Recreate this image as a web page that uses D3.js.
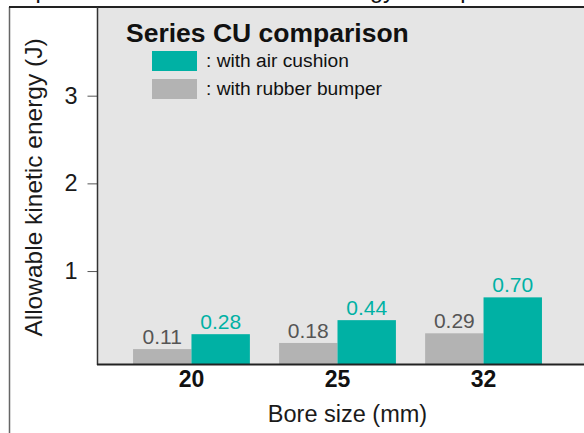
<!DOCTYPE html>
<html>
<head>
<meta charset="utf-8">
<script src="https://cdn.jsdelivr.net/npm/d3@7"></script>
<style>
  html, body { margin: 0; padding: 0; background: #fff; }
  svg { display: block; font-family: "Liberation Sans", Arial, Helvetica, sans-serif; }
</style>
</head>
<body>
<svg id="chart" width="584" height="433"></svg>
<script>
// ---- data ----
const boreSizes = ["20", "25", "32"];
const rubberBumper = [0.11, 0.18, 0.29];
const airCushion = [0.28, 0.44, 0.70];
const yTicks = [1, 2, 3];
const seriesKeys = ["rubber", "air"];
const legendLabels = [": with air cushion", ": with rubber bumper"];
const chartTitle = "Series CU comparison";
const pageTitle = "Comparison of allowable kinetic energy for impact";
const yTitle = "Allowable kinetic energy (J)";
const xTitle = "Bore size (mm)";

const colors = { air: "#00b1a4", rubber: "#b3b3b3" };
const labelColors = { air: "#00b1a4", rubber: "#555555" };

const rows = boreSizes.map((b, i) => ({ bore: b, rubber: rubberBumper[i], air: airCushion[i] }));

const svg = d3.select("#chart");
const W = 584, H = 433;
const plot = { left: 98, top: 8, right: 584, bottom: 364 };

// page title (mostly cropped above the window)
svg.append("text")
  .attr("x", -14).attr("y", -2)
  .attr("font-size", 23.5)
  .attr("fill", "#111")
  .text(pageTitle);

// plot background
svg.append("rect")
  .attr("x", plot.left).attr("y", plot.top)
  .attr("width", plot.right - plot.left).attr("height", plot.bottom - plot.top)
  .attr("fill", "#e5e5e5");

// scales
const x0 = d3.scaleBand().domain(boreSizes)
  .range([plot.left, 577]).paddingInner(0.2).paddingOuter(0.24);
const x1 = d3.scaleBand().domain(seriesKeys).range([0, x0.bandwidth()]).padding(0);
const y = d3.scaleLinear().domain([-0.06, 4.0]).range([plot.bottom, plot.top]);

// bars
const groups = svg.append("g").selectAll("g").data(rows).join("g")
  .attr("transform", d => `translate(${x0(d.bore)},0)`);
groups.selectAll("rect").data(d => seriesKeys.map(k => ({ key: k, value: d[k] }))).join("rect")
  .attr("x", d => x1(d.key))
  .attr("width", x1.bandwidth())
  .attr("y", d => y(d.value))
  .attr("height", d => y.range()[0] - y(d.value))
  .attr("fill", d => colors[d.key]);
groups.selectAll("text").data(d => seriesKeys.map(k => ({ key: k, value: d[k] }))).join("text")
  .attr("x", d => x1(d.key) + x1.bandwidth() / 2)
  .attr("y", d => y(d.value) - 5)
  .attr("text-anchor", "middle")
  .attr("font-size", 21)
  .attr("fill", d => labelColors[d.key])
  .text(d => d.value.toFixed(2));

// y axis
const yAxis = svg.append("g")
  .attr("transform", `translate(${plot.left - 0.5},0)`)
  .call(d3.axisLeft(y).tickValues(yTicks).tickSize(10).tickPadding(10).tickFormat(d3.format("d")));
yAxis.select(".domain").remove();
yAxis.selectAll(".tick line").attr("stroke", "#555").attr("stroke-width", 1);
yAxis.selectAll(".tick text").attr("font-size", 23.5).attr("fill", "#1a1a1a")
  .attr("font-family", "'Liberation Sans', Arial, sans-serif");

// x axis
const xAxis = svg.append("g")
  .attr("transform", `translate(0,${plot.bottom})`)
  .call(d3.axisBottom(x0).tickSize(0));
xAxis.select(".domain").remove();
xAxis.selectAll(".tick text")
  .attr("dy", null).attr("y", 23.3)
  .attr("font-size", 23).attr("font-weight", "bold").attr("fill", "#111")
  .attr("font-family", "'Liberation Sans', Arial, sans-serif");

// frame lines
svg.append("line").attr("x1", 9.5).attr("x2", 9.5).attr("y1", 7).attr("y2", H)
  .attr("stroke", "#666").attr("stroke-width", 1.5);
svg.append("line").attr("x1", 9).attr("x2", W).attr("y1", 7).attr("y2", 7)
  .attr("stroke", "#222").attr("stroke-width", 2);
svg.append("line").attr("x1", plot.left - 0.5).attr("x2", plot.left - 0.5).attr("y1", 7).attr("y2", plot.bottom + 1)
  .attr("stroke", "#333").attr("stroke-width", 1.5);
svg.append("line").attr("x1", plot.left - 1).attr("x2", W).attr("y1", plot.bottom + 0.5).attr("y2", plot.bottom + 0.5)
  .attr("stroke", "#222").attr("stroke-width", 2);

// chart title + legend
svg.append("text")
  .attr("x", 126).attr("y", 42.3)
  .attr("font-size", 26.5).attr("font-weight", "bold").attr("fill", "#111")
  .text(chartTitle);
const legendKeys = ["air", "rubber"];
const lg = svg.append("g").selectAll("g").data(legendKeys).join("g")
  .attr("transform", (d, i) => `translate(152,${51 + i * 28})`);
lg.append("rect").attr("width", 45).attr("height", 20).attr("fill", d => colors[d]);
lg.append("text").attr("x", 54).attr("y", 16.3)
  .attr("font-size", 19.2).attr("fill", "#111")
  .text((d, i) => legendLabels[i]);

// axis titles
svg.append("text")
  .attr("transform", "translate(42,187.5) rotate(-90)")
  .attr("text-anchor", "middle")
  .attr("font-size", 24.5).attr("fill", "#1a1a1a")
  .text(yTitle);
svg.append("text")
  .attr("x", 347.5).attr("y", 421.7)
  .attr("text-anchor", "middle")
  .attr("font-size", 23.5).attr("fill", "#1a1a1a")
  .text(xTitle);
</script>
</body>
</html>
